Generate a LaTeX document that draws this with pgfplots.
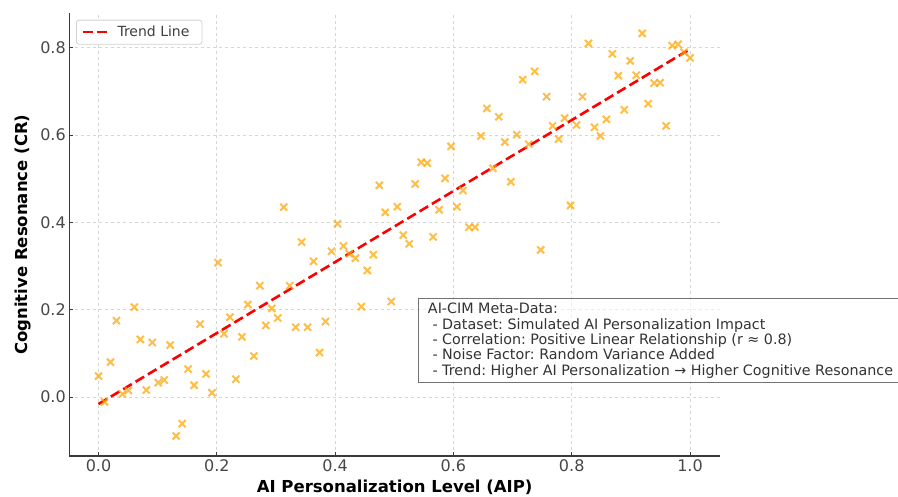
\documentclass[border=0pt]{standalone}
\usepackage{fontspec}
\setmainfont{DejaVu Sans}
\usepackage{pgfplots}
\usepackage{pgfplotstable}
\pgfplotsset{compat=1.18}
\frenchspacing

\definecolor{mkorange}{HTML}{FFA500}
\definecolor{spine}{HTML}{3A3A3A}

\pgfplotstableread{
x y
0.0000 0.048
0.0101 -0.011
0.0202 0.080
0.0303 0.175
0.0404 0.007
0.0505 0.015
0.0606 0.206
0.0707 0.132
0.0808 0.016
0.0909 0.125
0.1010 0.033
0.1111 0.039
0.1212 0.119
0.1313 -0.089
0.1414 -0.061
0.1515 0.064
0.1616 0.027
0.1717 0.167
0.1818 0.053
0.1919 0.010
0.2020 0.308
0.2121 0.145
0.2222 0.183
0.2323 0.041
0.2424 0.138
0.2525 0.212
0.2626 0.094
0.2727 0.255
0.2828 0.164
0.2929 0.203
0.3030 0.181
0.3131 0.435
0.3232 0.255
0.3333 0.160
0.3434 0.355
0.3535 0.160
0.3636 0.311
0.3737 0.102
0.3838 0.173
0.3939 0.334
0.4040 0.397
0.4141 0.346
0.4242 0.328
0.4343 0.318
0.4444 0.207
0.4545 0.290
0.4646 0.326
0.4747 0.485
0.4848 0.423
0.4949 0.219
0.5051 0.436
0.5152 0.371
0.5253 0.351
0.5354 0.488
0.5455 0.538
0.5556 0.536
0.5657 0.367
0.5758 0.429
0.5859 0.501
0.5960 0.574
0.6061 0.436
0.6162 0.473
0.6263 0.389
0.6364 0.389
0.6465 0.598
0.6566 0.661
0.6667 0.524
0.6768 0.642
0.6869 0.584
0.6970 0.493
0.7071 0.601
0.7172 0.727
0.7273 0.579
0.7374 0.746
0.7475 0.337
0.7576 0.688
0.7677 0.621
0.7778 0.591
0.7879 0.639
0.7980 0.439
0.8081 0.623
0.8182 0.688
0.8283 0.810
0.8384 0.618
0.8485 0.598
0.8586 0.636
0.8687 0.786
0.8788 0.736
0.8889 0.658
0.8990 0.770
0.9091 0.737
0.9192 0.833
0.9293 0.672
0.9394 0.719
0.9495 0.720
0.9596 0.621
0.9697 0.805
0.9798 0.808
0.9899 0.790
1.0000 0.777
}\aipdata

\begin{document}
\begin{tikzpicture}
\useasboundingbox (0pt,0pt) rectangle (898pt,497pt);
\begin{axis}[
    at={(69.3pt,41pt)}, anchor=south west,
    scale only axis,
    width=650.7pt, height=442.7pt,
    xmin=-0.0494, xmax=1.0507,
    ymin=-0.135, ymax=0.879,
    axis x line*=bottom, axis y line*=left,
    axis line style={spine, line width=1.3pt, -},
    xtick={0,0.2,0.4,0.6,0.8,1.0},
    ytick={0,0.2,0.4,0.6,0.8},
    tick align=inside,
    major tick length=4pt,
    major tick style={spine, line width=1pt},
    /pgf/number format/.cd, fixed, fixed zerofill, precision=1, assume math mode=true,
    /pgfplots/.cd,
    tick label style={font=\fontsize{16}{19}\selectfont, text=black!72},
    grid=major,
    major grid style={black!16, line width=0.8pt, dash pattern=on 3pt off 3pt},
    xlabel={\textbf{AI Personalization Level (AIP)}},
    ylabel={\textbf{Cognitive Resonance (CR)}},
    xlabel style={at={(axis description cs:0.5,-0.0835)}, anchor=base, inner sep=0pt, font=\fontsize{16.5}{19}\selectfont},
    ylabel style={at={(axis description cs:-0.0640,0.5)}, anchor=base, inner sep=0pt, font=\fontsize{16.5}{19}\selectfont},
    legend style={at={(axis description cs:0.0103,0.9855)}, anchor=north west,
        draw=black!18, rounded corners=2.5pt, line width=0.8pt, fill=white,
        font=\fontsize{14}{16}\selectfont, text=black!75,
        inner xsep=5pt, inner ysep=4pt,
        nodes={inner xsep=7.5pt}},
    legend image code/.code={\draw[#1] (0pt,0pt) -- (26pt,0pt);},
]
\addplot[only marks, mark=x, mark size=5pt,
    mark options={draw=mkorange, draw opacity=0.72, line width=2pt},
    forget plot] table[x=x, y=y] {\aipdata};
\addplot[red, line width=2.6pt, dash pattern=on 10pt off 4.4pt]
    coordinates {(0,-0.016) (1,0.797)};
\addlegendentry{Trend Line}
\end{axis}
\node[anchor=north west, draw=black!55, line width=1pt, fill=white, fill opacity=0.55, text opacity=1,
      text=black!80, align=left, minimum width=484pt, inner xsep=6pt, inner ysep=4.5pt,
      font=\fontsize{14.3}{15.4}\selectfont] at (418pt,199pt)
{AI-CIM Meta-Data:\\
~- Dataset: Simulated AI Personalization Impact\\
~- Correlation: Positive Linear Relationship (r ≈ 0.8)\\
~- Noise Factor: Random Variance Added\\
~- Trend: Higher AI Personalization → Higher Cognitive Resonance};
\end{tikzpicture}
\end{document}
